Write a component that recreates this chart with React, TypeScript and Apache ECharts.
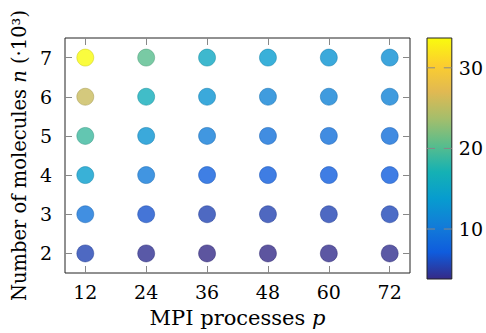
import React, { useEffect, useRef } from "react";
import * as echarts from "echarts";

const processes = [12, 24, 36, 48, 60, 72];
const molecules = [2, 3, 4, 5, 6, 7];
// runtime values per molecule count (rows) and process count (columns)
const row2 = [5.5, 4.2, 3.8, 3.8, 4.0, 4.1];
const row3 = [9.4, 6.5, 5.5, 5.4, 5.5, 5.7];
const row4 = [14.0, 10.1, 7.4, 7.1, 7.2, 7.2];
const row5 = [19.0, 12.8, 10.4, 9.1, 9.0, 8.9];
const row6 = [25.7, 16.4, 12.8, 11.1, 11.0, 11.0];
const row7 = [33.7, 20.3, 15.4, 13.8, 12.8, 12.3];
const rows = [row2, row3, row4, row5, row6, row7];
const colorbarTicks = [10, 20, 30];

const parula = [
  "rgb(53,42,135)",
  "rgb(15,92,221)",
  "rgb(18,125,216)",
  "rgb(7,156,207)",
  "rgb(21,177,180)",
  "rgb(89,189,140)",
  "rgb(165,190,107)",
  "rgb(225,185,82)",
  "rgb(252,206,46)",
  "rgb(249,251,14)",
];

const FONT = "DejaVu Serif";

export default function App() {
  const ref = useRef<HTMLDivElement>(null);
  useEffect(() => {
    document.body.style.margin = "0";
    if (!ref.current) return;
    const chart = echarts.init(ref.current, undefined, { renderer: "svg" });
    const all = rows.flat();
    const vmin = Math.min(...all);
    const vmax = Math.max(...all);
    const data: any[] = [];
    rows.forEach((r, yi) =>
      r.forEach((v, xi) => {
        const t = (v - vmin) / (vmax - vmin);
        const c = echarts.color.lerp(t, parula) as string;
        const arr = echarts.color.parse(c);
        const dark = `rgb(${Math.round(arr[0] * 0.8)},${Math.round(arr[1] * 0.8)},${Math.round(arr[2] * 0.8)})`;
        data.push({
          value: [processes[xi], molecules[yi], v],
          itemStyle: { color: c, borderColor: dark, borderWidth: 0.6 },
        });
      })
    );
    const stops = parula.map((c, i) => ({ offset: i / (parula.length - 1), color: c }));
    const tickStyle = { show: true, inside: true, length: 7, lineStyle: { color: "#888", width: 1 } };
    const txt = { fontFamily: FONT, fontSize: 19, color: "#000" };
    const xName = { ...txt, fontSize: 21 };
    const yName = { ...txt, fontSize: 19.5 };
    chart.setOption({
      animation: false,
      textStyle: { fontFamily: FONT },
      grid: [
        { left: 65, right: 76, top: 38, bottom: 54, show: true, borderColor: "#222", borderWidth: 1 },
        { left: 427, width: 28, top: 38, bottom: 54, show: false },
      ],
      xAxis: [
        {
          type: "value", gridIndex: 0, min: 8, max: 76, position: "bottom",
          axisLine: { show: false }, splitLine: { show: false },
          axisTick: { ...tickStyle, customValues: processes },
          axisLabel: { ...txt, margin: 9, customValues: processes },
          name: "{r|MPI processes }{i|p}",
          nameLocation: "middle", nameGap: 34,
          nameTextStyle: { ...xName, rich: { r: { ...xName }, i: { ...xName, fontStyle: "italic" } } },
        },
        {
          type: "value", gridIndex: 0, min: 8, max: 76, position: "top",
          axisLine: { show: false }, splitLine: { show: false },
          axisTick: { ...tickStyle, customValues: processes },
          axisLabel: { show: false },
        },
        {
          type: "value", gridIndex: 1, min: 0, max: 1, show: false,
        },
      ],
      yAxis: [
        {
          type: "value", gridIndex: 0, min: 1.5, max: 7.5, position: "left",
          axisLine: { show: false }, splitLine: { show: false },
          axisTick: { ...tickStyle, customValues: molecules },
          axisLabel: { ...txt, margin: 13, customValues: molecules },
          name: "{r|Number of molecules }{i|n}{r| (·10³)}",
          nameLocation: "middle", nameGap: 30, nameRotate: 90,
          nameTextStyle: { ...yName, rich: { r: { ...yName }, i: { ...yName, fontStyle: "italic" } } },
        },
        {
          type: "value", gridIndex: 0, min: 1.5, max: 7.5, position: "right",
          axisLine: { show: false }, splitLine: { show: false },
          axisTick: { ...tickStyle, customValues: molecules },
          axisLabel: { show: false },
        },
        {
          type: "value", gridIndex: 1, min: vmin, max: vmax, position: "right",
          axisLine: { show: false }, splitLine: { show: false },
          axisTick: { show: false },
          axisLabel: { ...txt, margin: 7, customValues: colorbarTicks },
        },
      ],
      series: [
        {
          type: "scatter", xAxisIndex: 0, yAxisIndex: 0, symbolSize: 17, data,
        },
        {
          type: "custom", xAxisIndex: 2, yAxisIndex: 2, z: 1,
          data: [[0, 1, vmin, vmax]],
          renderItem: (params: any, api: any) => {
            const p0 = api.coord([api.value(0), api.value(2)]);
            const p1 = api.coord([api.value(1), api.value(3)]);
            const ticks: any[] = [];
            colorbarTicks.forEach((tv) => {
              const ty = api.coord([0, tv])[1];
              ticks.push({
                type: "line",
                shape: { x1: p0[0], y1: ty, x2: p0[0] + 8, y2: ty },
                style: { stroke: "#888", lineWidth: 1 },
              });
              ticks.push({
                type: "line",
                shape: { x1: p1[0] - 8, y1: ty, x2: p1[0], y2: ty },
                style: { stroke: "#888", lineWidth: 1 },
              });
            });
            return {
              type: "group",
              children: [
                {
                  type: "rect",
                  shape: { x: p0[0], y: p1[1], width: p1[0] - p0[0], height: p0[1] - p1[1] },
                  style: {
                    fill: { type: "linear", x: 0, y: 1, x2: 0, y2: 0, colorStops: stops },
                    stroke: "#222", lineWidth: 1,
                  },
                },
                ...ticks,
              ],
            };
          },
        },
      ],
    });
    return () => chart.dispose();
  }, []);
  return <div ref={ref} style={{ width: 486, height: 333 }} />;
}
